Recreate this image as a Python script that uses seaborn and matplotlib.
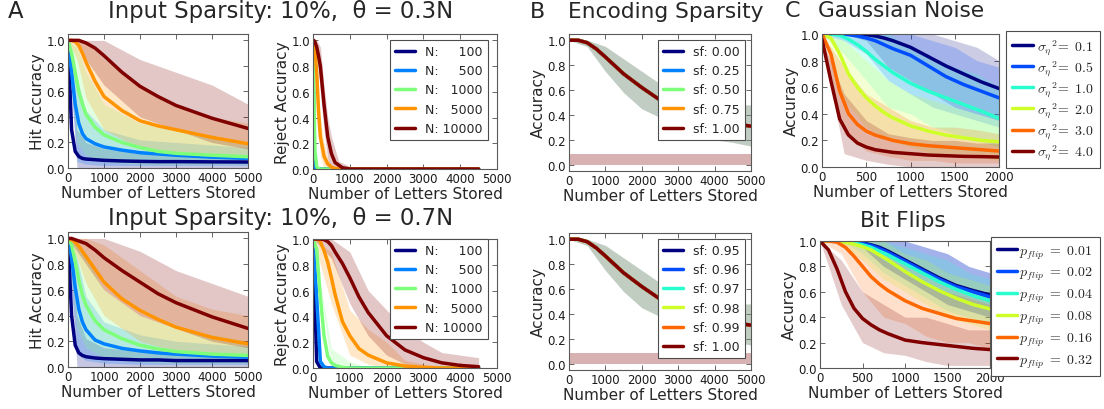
import numpy as np
import pandas as pd
import matplotlib
matplotlib.use('Agg')
import matplotlib.pyplot as plt
from matplotlib.lines import Line2D
import seaborn as sns

# ---------------- data ----------------
# A: input sparsity, hit accuracy vs letters stored
n_labels = ['N: \u2007\u2007100', 'N: \u2007\u2007500', 'N: \u20071000', 'N: \u20075000', 'N: 10000']
a_x = [0, 100, 200, 300, 400, 500, 750, 1000, 1500, 2000, 2500, 3000, 4000, 5000]
hit03_mean = [
    [1.0, 0.30, 0.13, 0.09, 0.075, 0.07, 0.065, 0.06, 0.055, 0.052, 0.05, 0.05, 0.048, 0.047],
    [1.0, 0.75, 0.50, 0.35, 0.27, 0.23, 0.19, 0.165, 0.14, 0.12, 0.11, 0.10, 0.085, 0.075],
    [1.0, 0.90, 0.75, 0.60, 0.50, 0.42, 0.32, 0.26, 0.20, 0.16, 0.13, 0.115, 0.10, 0.088],
    [1.0, 1.0, 0.99, 0.96, 0.90, 0.83, 0.68, 0.56, 0.45, 0.37, 0.33, 0.30, 0.24, 0.19],
    [1.0, 1.0, 1.0, 1.0, 0.99, 0.98, 0.94, 0.88, 0.75, 0.64, 0.56, 0.49, 0.39, 0.31],
]
hit07_mean = [
    [1.0, 0.40, 0.17, 0.11, 0.09, 0.08, 0.07, 0.065, 0.06, 0.055, 0.055, 0.05, 0.05, 0.05],
    [1.0, 0.85, 0.62, 0.45, 0.35, 0.29, 0.21, 0.18, 0.145, 0.125, 0.11, 0.10, 0.085, 0.075],
    [1.0, 0.95, 0.82, 0.68, 0.56, 0.48, 0.36, 0.29, 0.22, 0.17, 0.14, 0.12, 0.10, 0.09],
    [1.0, 0.99, 0.97, 0.94, 0.90, 0.86, 0.76, 0.66, 0.53, 0.44, 0.37, 0.31, 0.23, 0.18],
    [1.0, 1.0, 0.99, 0.98, 0.97, 0.96, 0.91, 0.85, 0.75, 0.66, 0.57, 0.50, 0.39, 0.30],
]
a_band_x = [0, 250, 500, 1000, 2000, 3000, 4000, 5000]
hit03_lo = [
    [1.0, 0.0, 0.0, 0.0, 0.0, 0.0, 0.0, 0.0],
    [1.0, 0.05, 0.03, 0.02, 0.02, 0.02, 0.02, 0.02],
    [1.0, 0.20, 0.10, 0.05, 0.03, 0.03, 0.03, 0.03],
    [1.0, 0.85, 0.55, 0.30, 0.15, 0.10, 0.08, 0.06],
    [1.0, 1.0, 0.85, 0.65, 0.40, 0.30, 0.20, 0.15],
]
hit03_hi = [
    [1.0, 0.30, 0.20, 0.15, 0.12, 0.10, 0.10, 0.10],
    [1.0, 0.70, 0.45, 0.30, 0.22, 0.20, 0.18, 0.16],
    [1.0, 0.95, 0.75, 0.50, 0.35, 0.30, 0.25, 0.20],
    [1.0, 1.0, 1.0, 0.85, 0.65, 0.50, 0.40, 0.35],
    [1.0, 1.0, 1.0, 1.0, 0.85, 0.75, 0.65, 0.50],
]
hit07_lo = [
    [1.0, 0.0, 0.0, 0.0, 0.0, 0.0, 0.0, 0.0],
    [1.0, 0.10, 0.05, 0.03, 0.02, 0.02, 0.02, 0.02],
    [1.0, 0.30, 0.15, 0.07, 0.04, 0.03, 0.03, 0.03],
    [1.0, 0.85, 0.65, 0.40, 0.20, 0.12, 0.08, 0.06],
    [1.0, 0.90, 0.80, 0.60, 0.40, 0.30, 0.20, 0.15],
]
hit07_hi = [
    [1.0, 0.40, 0.22, 0.15, 0.12, 0.10, 0.10, 0.10],
    [1.0, 0.85, 0.55, 0.35, 0.25, 0.20, 0.18, 0.16],
    [1.0, 0.95, 0.85, 0.60, 0.40, 0.30, 0.25, 0.20],
    [1.0, 1.0, 1.0, 0.95, 0.75, 0.55, 0.45, 0.40],
    [1.0, 1.0, 1.0, 1.0, 0.90, 0.75, 0.65, 0.55],
]

# A: reject accuracy
r3_x = [0, 25, 50, 100, 150, 200, 300, 400, 500, 600, 800, 1000, 2000, 4500]
rej03_mean = [
    [1.0, 0.0, 0.0, 0.0, 0.0, 0.0, 0.0, 0.0, 0.0, 0.0, 0.0, 0.0, 0.0, 0.0],
    [1.0, 0.08, 0.0, 0.0, 0.0, 0.0, 0.0, 0.0, 0.0, 0.0, 0.0, 0.0, 0.0, 0.0],
    [1.0, 0.60, 0.15, 0.02, 0.0, 0.0, 0.0, 0.0, 0.0, 0.0, 0.0, 0.0, 0.0, 0.0],
    [1.0, 0.99, 0.95, 0.75, 0.45, 0.25, 0.10, 0.04, 0.015, 0.005, 0.0, 0.0, 0.0, 0.0],
    [1.0, 1.0, 0.99, 0.95, 0.88, 0.80, 0.50, 0.25, 0.12, 0.05, 0.01, 0.0, 0.0, 0.0],
]
r3_band_x = [0, 100, 200, 300, 400, 500, 700, 1000]
rej03_lo = [None, None, None,
            [1.0, 0.60, 0.10, 0.0, 0.0, 0.0, 0.0, 0.0],
            [1.0, 0.90, 0.60, 0.30, 0.08, 0.0, 0.0, 0.0]]
rej03_hi = [None, None, None,
            [1.0, 0.90, 0.40, 0.20, 0.08, 0.03, 0.0, 0.0],
            [1.0, 1.0, 0.95, 0.65, 0.40, 0.25, 0.06, 0.02]]

r7_x = [0, 100, 200, 300, 400, 500, 600, 800, 1000, 1250, 1500, 2000, 2500, 3000, 3500, 4000, 4500]
rej07_mean = [
    [1.0, 0.05, 0.0, 0.0, 0.0, 0.0, 0.0, 0.0, 0.0, 0.0, 0.0, 0.0, 0.0, 0.0, 0.0, 0.0, 0.0],
    [1.0, 0.55, 0.05, 0.01, 0.0, 0.0, 0.0, 0.0, 0.0, 0.0, 0.0, 0.0, 0.0, 0.0, 0.0, 0.0, 0.0],
    [1.0, 0.92, 0.55, 0.25, 0.09, 0.04, 0.02, 0.005, 0.0, 0.0, 0.0, 0.0, 0.0, 0.0, 0.0, 0.0, 0.0],
    [1.0, 1.0, 0.98, 0.91, 0.82, 0.70, 0.57, 0.36, 0.25, 0.15, 0.10, 0.04, 0.015, 0.005, 0.0, 0.0, 0.0],
    [1.0, 1.0, 1.0, 0.995, 0.98, 0.95, 0.90, 0.81, 0.70, 0.55, 0.43, 0.25, 0.14, 0.08, 0.04, 0.02, 0.01],
]
r7_band_x = [0, 500, 1000, 1500, 2000, 2500, 3000, 3500, 4000, 4500]
rej07_lo = [None, None,
            [1.0, 0.0, 0.0, 0.0, 0.0, 0.0, 0.0, 0.0, 0.0, 0.0],
            [1.0, 0.50, 0.10, 0.03, 0.0, 0.0, 0.0, 0.0, 0.0, 0.0],
            [1.0, 0.85, 0.50, 0.25, 0.10, 0.03, 0.0, 0.0, 0.0, 0.0]]
rej07_hi = [None, None,
            [1.0, 0.15, 0.05, 0.0, 0.0, 0.0, 0.0, 0.0, 0.0, 0.0],
            [1.0, 0.90, 0.45, 0.30, 0.20, 0.06, 0.03, 0.01, 0.0, 0.0],
            [1.0, 1.0, 0.90, 0.60, 0.45, 0.30, 0.20, 0.12, 0.10, 0.08]]

# B: encoding sparsity (all curves lie on top of each other)
sf_top = ['sf: 0.00', 'sf: 0.25', 'sf: 0.50', 'sf: 0.75', 'sf: 1.00']
sf_bottom = ['sf: 0.95', 'sf: 0.96', 'sf: 0.97', 'sf: 0.98', 'sf: 0.99', 'sf: 1.00']
b_x = [0, 250, 500, 750, 1000, 1500, 2000, 2500, 3000, 3500, 4000, 4500, 5000]
enc_fit = [1.0, 1.0, 0.98, 0.93, 0.865, 0.73, 0.62, 0.52, 0.45, 0.40, 0.36, 0.33, 0.31]
b_band_x = [0, 500, 1000, 1500, 2000, 2500, 3000, 3500, 4000, 4500, 5000]
enc_lo = [1.0, 0.95, 0.75, 0.58, 0.45, 0.38, 0.30, 0.25, 0.20, 0.18, 0.15]
enc_hi = [1.0, 1.0, 0.95, 0.85, 0.75, 0.65, 0.60, 0.52, 0.50, 0.48, 0.48]
floor_x = [0, 5000]
floor_lo = [0.0, 0.0]
floor_hi = [0.09, 0.09]

# C: Gaussian noise / bit flips
noise_labels = [r'$\sigma_\eta{}^2\!=\ \mathit{0.1}$', r'$\sigma_\eta{}^2\!=\ \mathit{0.5}$',
                r'$\sigma_\eta{}^2\!=\ \mathit{1.0}$', r'$\sigma_\eta{}^2\!=\ \mathit{2.0}$',
                r'$\sigma_\eta{}^2\!=\ \mathit{3.0}$', r'$\sigma_\eta{}^2\!=\ \mathit{4.0}$']
flip_labels = [r'$p_{flip}\ =\ \mathit{0.01}$', r'$p_{flip}\ =\ \mathit{0.02}$',
               r'$p_{flip}\ =\ \mathit{0.04}$', r'$p_{flip}\ =\ \mathit{0.08}$',
               r'$p_{flip}\ =\ \mathit{0.16}$', r'$p_{flip}\ =\ \mathit{0.32}$']
c_x = [0, 100, 200, 300, 400, 500, 600, 700, 800, 1000, 1200, 1400, 1600, 1800, 2000]
gauss_mean = [
    [1.0, 1.0, 1.0, 1.0, 1.0, 0.995, 0.985, 0.97, 0.95, 0.90, 0.83, 0.76, 0.70, 0.64, 0.59],
    [1.0, 1.0, 1.0, 0.995, 0.985, 0.97, 0.95, 0.92, 0.89, 0.84, 0.76, 0.68, 0.62, 0.57, 0.52],
    [1.0, 1.0, 0.99, 0.96, 0.92, 0.87, 0.81, 0.76, 0.71, 0.63, 0.57, 0.52, 0.47, 0.42, 0.365],
    [1.0, 0.97, 0.85, 0.70, 0.60, 0.52, 0.46, 0.41, 0.37, 0.31, 0.27, 0.24, 0.22, 0.20, 0.19],
    [1.0, 0.85, 0.57, 0.40, 0.32, 0.27, 0.24, 0.22, 0.20, 0.175, 0.16, 0.15, 0.14, 0.13, 0.12],
    [0.96, 0.65, 0.36, 0.24, 0.18, 0.15, 0.13, 0.12, 0.11, 0.10, 0.09, 0.085, 0.08, 0.078, 0.075],
]
flip_mean = [
    [1.0, 1.0, 1.0, 1.0, 0.995, 0.985, 0.97, 0.95, 0.92, 0.85, 0.78, 0.71, 0.65, 0.61, 0.575],
    [1.0, 1.0, 1.0, 1.0, 0.99, 0.98, 0.965, 0.94, 0.91, 0.84, 0.77, 0.70, 0.64, 0.60, 0.56],
    [1.0, 1.0, 1.0, 0.995, 0.985, 0.97, 0.95, 0.92, 0.89, 0.82, 0.75, 0.68, 0.62, 0.57, 0.53],
    [1.0, 1.0, 1.0, 0.99, 0.975, 0.955, 0.93, 0.89, 0.85, 0.76, 0.68, 0.61, 0.55, 0.50, 0.465],
    [1.0, 1.0, 0.99, 0.95, 0.88, 0.80, 0.72, 0.66, 0.61, 0.53, 0.47, 0.43, 0.39, 0.37, 0.35],
    [1.0, 0.93, 0.78, 0.60, 0.47, 0.39, 0.34, 0.30, 0.27, 0.22, 0.20, 0.185, 0.17, 0.155, 0.145],
]
c_band_x = [0, 250, 500, 750, 1000, 1250, 1500, 1750, 2000]
gauss_lo = [
    [1.0, 1.0, 0.95, 0.75, 0.65, 0.55, 0.45, 0.40, 0.35],
    [1.0, 0.95, 0.85, 0.65, 0.55, 0.45, 0.40, 0.35, 0.30],
    [1.0, 0.85, 0.65, 0.45, 0.40, 0.30, 0.25, 0.20, 0.15],
    [1.0, 0.50, 0.30, 0.20, 0.15, 0.10, 0.10, 0.08, 0.05],
    [1.0, 0.25, 0.12, 0.08, 0.05, 0.05, 0.03, 0.03, 0.03],
    [0.95, 0.10, 0.05, 0.02, 0.0, 0.0, 0.0, 0.0, 0.0],
]
gauss_hi = [
    [1.0, 1.0, 1.0, 1.0, 1.0, 1.0, 0.95, 0.90, 0.80],
    [1.0, 1.0, 1.0, 1.0, 1.0, 0.95, 0.90, 0.80, 0.75],
    [1.0, 1.0, 1.0, 1.0, 0.90, 0.80, 0.75, 0.70, 0.60],
    [1.0, 0.95, 0.80, 0.65, 0.55, 0.50, 0.45, 0.40, 0.35],
    [1.0, 0.75, 0.55, 0.45, 0.35, 0.30, 0.30, 0.28, 0.25],
    [0.95, 0.55, 0.35, 0.25, 0.22, 0.20, 0.20, 0.18, 0.18],
]
flip_lo = [
    [1.0, 1.0, 0.95, 0.80, 0.70, 0.60, 0.50, 0.45, 0.40],
    [1.0, 1.0, 0.95, 0.80, 0.70, 0.60, 0.50, 0.45, 0.40],
    [1.0, 1.0, 0.90, 0.75, 0.65, 0.55, 0.45, 0.40, 0.35],
    [1.0, 0.98, 0.85, 0.70, 0.60, 0.50, 0.40, 0.35, 0.30],
    [1.0, 0.90, 0.60, 0.40, 0.35, 0.25, 0.20, 0.20, 0.15],
    [1.0, 0.50, 0.20, 0.12, 0.10, 0.05, 0.02, 0.02, 0.02],
]
flip_hi = [
    [1.0, 1.0, 1.0, 1.0, 1.0, 0.95, 0.90, 0.80, 0.75],
    [1.0, 1.0, 1.0, 1.0, 1.0, 0.95, 0.90, 0.80, 0.75],
    [1.0, 1.0, 1.0, 1.0, 0.95, 0.90, 0.85, 0.75, 0.70],
    [1.0, 1.0, 1.0, 1.0, 0.90, 0.85, 0.75, 0.70, 0.65],
    [1.0, 1.0, 1.0, 0.85, 0.75, 0.65, 0.60, 0.55, 0.50],
    [1.0, 0.85, 0.60, 0.50, 0.40, 0.40, 0.35, 0.30, 0.30],
]

# ---------------- style ----------------
sns.set_style('ticks')
plt.rcParams['font.family'] = ['DejaVu Sans']
plt.rcParams['mathtext.fontset'] = 'cm'

jet5 = [plt.cm.jet(v) for v in np.linspace(0, 1, 5)]
jet6 = [plt.cm.jet(v) for v in np.linspace(0, 1, 6)]

W, H = 1104, 410
fig = plt.figure(figsize=(W / 100, H / 100), dpi=100)


def add_ax(l, t, r, b):
    return fig.add_axes([l / W, 1 - b / H, (r - l) / W, (b - t) / H])


def draw(ax, xs, means, labels, colors, band_x=None, lows=None, highs=None, alpha=0.22):
    # noisy single runs shown as a pale band, fitted curve as a thick line
    if band_x is not None:
        for lo, hi, c in zip(lows, highs, colors):
            if lo is not None:
                ax.fill_between(band_x, lo, hi, color=c, alpha=alpha, lw=0)
    df = pd.DataFrame({
        'x': np.tile(xs, len(labels)),
        'acc': np.concatenate(means),
        'series': np.repeat(labels, len(xs)),
    })
    sns.lineplot(data=df, x='x', y='acc', hue='series', hue_order=labels,
                 palette=colors, lw=2.5, estimator=None, legend=False, ax=ax)


def style(ax, xmax, xticks, ylim, ylabel):
    ax.set_xlim(0, xmax)
    ax.set_ylim(*ylim)
    ax.set_xticks(xticks)
    yt = [0.0, 0.2, 0.4, 0.6, 0.8, 1.0]
    ax.set_yticks(yt)
    ax.set_yticklabels([f'{v:.1f}' for v in yt])
    ax.tick_params(direction='in', top=True, right=True, labelsize=8.5,
                   length=3.5, width=0.6, color='0.3', labelcolor='0.1', pad=2)
    for s in ax.spines.values():
        s.set_color('0.35')
        s.set_linewidth(0.8)
    ax.set_xlabel('Number of Letters Stored', fontsize=11, labelpad=1)
    ax.set_ylabel(ylabel, fontsize=11, labelpad=1)


def legend(ax, labels, colors, x, y, loc, fs=9, spacing=0.45, hl=1.6, tp=0.8, bp=0.4):
    handles = [Line2D([], [], color=c, lw=2.5) for c in colors]
    leg = ax.legend(handles, labels, loc=loc, bbox_to_anchor=(x / W, 1 - y / H),
                    bbox_transform=fig.transFigure, borderaxespad=0, fontsize=fs,
                    frameon=True, fancybox=False, framealpha=1, borderpad=bp,
                    handlelength=hl, handletextpad=tp, labelspacing=spacing)
    leg.get_frame().set_edgecolor('0.3')
    leg.get_frame().set_linewidth(0.8)


a_xt = [0, 1000, 2000, 3000, 4000, 5000]

# A top
ax = add_ax(68, 35, 248, 169)
draw(ax, a_x, hit03_mean, n_labels, jet5, a_band_x, hit03_lo, hit03_hi)
style(ax, 5000, a_xt, (0, 1.05), 'Hit Accuracy')

ax = add_ax(313, 35, 497, 170)
draw(ax, r3_x, rej03_mean, n_labels, jet5, r3_band_x, rej03_lo, rej03_hi)
style(ax, 5000, a_xt, (0, 1.05), 'Reject Accuracy')
legend(ax, n_labels, jet5, 488, 41, 'upper right', spacing=0.5)

# A bottom
ax = add_ax(68, 233, 248, 368)
draw(ax, a_x, hit07_mean, n_labels, jet5, a_band_x, hit07_lo, hit07_hi)
style(ax, 5000, a_xt, (0, 1.05), 'Hit Accuracy')

ax = add_ax(313, 240, 497, 369)
draw(ax, r7_x, rej07_mean, n_labels, jet5, r7_band_x, rej07_lo, rej07_hi)
style(ax, 5000, a_xt, (0, 1.0), 'Reject Accuracy')
legend(ax, n_labels, jet5, 488, 240, 'upper right', spacing=0.5)

# B
ax = add_ax(569, 35, 751, 172)
ax.fill_between(floor_x, floor_lo, floor_hi, color=jet5[-1], alpha=0.3, lw=0)
draw(ax, b_x, [enc_fit] * len(sf_top), sf_top, jet5,
     b_band_x, [enc_lo] * 4 + [None], [enc_hi] * 4 + [None], alpha=0.13)
style(ax, 5000, a_xt, (-0.05, 1.05), 'Accuracy')
legend(ax, sf_top, jet5, 745, 41, 'upper right', spacing=0.5)

ax = add_ax(569, 234, 751, 371)
ax.fill_between(floor_x, floor_lo, floor_hi, color=jet6[-1], alpha=0.3, lw=0)
draw(ax, b_x, [enc_fit] * len(sf_bottom), sf_bottom, jet6,
     b_band_x, [enc_lo] * 5 + [None], [enc_hi] * 5 + [None], alpha=0.11)
style(ax, 5000, a_xt, (-0.05, 1.05), 'Accuracy')
legend(ax, sf_bottom, jet6, 745, 240, 'upper right', spacing=0.5)

# C
c_xt = [0, 500, 1000, 1500, 2000]
ax = add_ax(822, 35, 999, 168)
draw(ax, c_x, gauss_mean, noise_labels, jet6, c_band_x, gauss_lo, gauss_hi, alpha=0.2)
style(ax, 2000, c_xt, (0, 1.0), 'Accuracy')
legend(ax, noise_labels, jet6, 1100, 32, 'upper right', fs=10, spacing=0.12, hl=1.5, tp=0.3, bp=0.45)

ax = add_ax(820, 242, 990, 369)
draw(ax, c_x, flip_mean, flip_labels, jet6, c_band_x, flip_lo, flip_hi, alpha=0.2)
style(ax, 2000, c_xt, (0, 1.0), 'Accuracy')
legend(ax, flip_labels, jet6, 1100, 238, 'upper right', fs=10, spacing=0.32, hl=1.4, tp=0.2, bp=0.45)

# panel titles
fig.text(8 / W, 1 - 18 / H, 'A', fontsize=16.4)
fig.text(108 / W, 1 - 18 / H, 'Input Sparsity: 10%,  θ = 0.3N', fontsize=16.4)
fig.text(108 / W, 1 - 225 / H, 'Input Sparsity: 10%,  θ = 0.7N', fontsize=16.4)
fig.text(530 / W, 1 - 18 / H, 'B', fontsize=16)
fig.text(568 / W, 1 - 18 / H, 'Encoding Sparsity', fontsize=15.6)
fig.text(785 / W, 1 - 17 / H, 'C', fontsize=16)
fig.text(818 / W, 1 - 17 / H, 'Gaussian Noise', fontsize=15.6)
fig.text(860 / W, 1 - 227 / H, 'Bit Flips', fontsize=15.6)

fig.savefig('out.png', dpi=100)
